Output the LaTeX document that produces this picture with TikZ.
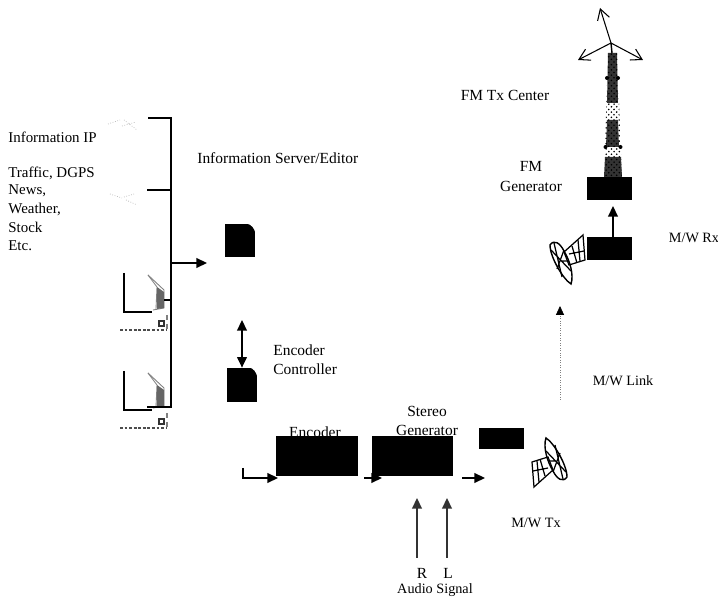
\documentclass[tikz,border=0pt]{standalone}
\usepackage{fontspec}
\setmainfont{Liberation Serif}
\usetikzlibrary{arrows.meta,patterns}

\tikzset{
    lbl/.style={font=\fontsize{8.8}{10}\selectfont, inner sep=0pt, align=center},
    lblleft/.style={lbl, anchor=west, align=left},
    srclbl/.style={lblleft, font=\fontsize{8.5}{10}\selectfont},
    mwlbl/.style={lbl, font=\fontsize{8.1}{10}\selectfont},
    blackbox/.style={fill=black, draw=none, inner sep=0pt},
    arr/.style={-{Triangle[length=6pt,width=5.5pt]}, line width=0.9pt},
    busline/.style={line width=1.1pt},
    mwdish/.pic={
        % reflector and horn
        \draw[line width=0.8pt, fill=white] (-16,-12) .. controls (-12,-18) and (-6,-14) .. (-2,-6) .. controls (4,4) and (8,18) .. (5,27) .. controls (-3,22) and (-16,0) .. cycle;
        \draw[line width=0.7pt] (-12,-14) -- (-4,20) (-15,-7) -- (5,14) (-9,12) -- (-2,-7) (-4,4) -- (3,4);
        \draw[line width=0.7pt] (-2,-5) -- (17,-22) -- (19,3) -- (3,8) -- cycle;
        \draw[line width=0.7pt] (6,-11) -- (11,6) (3,-3) -- (18,-6) (12,-17) -- (14,4);
    },
    monitor/.pic={
        \draw[line width=0.8pt] (-33,-40) -- (-33,-1) -- (-5,-1);
        \draw[gray, line width=0.5pt] (-9,-38) -- (7,-23) -- (7,-5) -- (-4,-3);
        \draw[gray, line width=0.5pt] (-9,-38) -- (0,-26) -- (-1,-4);
        \fill[black!60] (0,-26) -- (7,-21) -- (7,-5) -- (0,-4) -- cycle;
        \draw[gray, densely dashed, line width=0.6pt] (10,2) -- (10,17);
        \draw[black!70, densely dotted, line width=1.6pt] (-37,17) -- (10,17);
        \draw[black!80, line width=0.7pt] (2,8) rectangle (7,13);
    }
}

\begin{document}
\begin{tikzpicture}[x=0.02cm, y=-0.02cm]
    % Fix the picture size
    \useasboundingbox (0,0) rectangle (718,597);

    % Information sources on the left
    \node[srclbl] (infoip) at (8,137) {Information IP};
    \node[srclbl] (traffic) at (8,173) {Traffic, DGPS};
    \node[srclbl] (news) at (8,191) {News,};
    \node[srclbl] (weather) at (8,209) {Weather,};
    \node[srclbl] (stock) at (8,227) {Stock};
    \node[srclbl] (etc) at (8,246) {Etc.};
    \draw[gray!60, densely dotted] (108,124) -- (120,120) (122,126) -- (136,122) (124,120) -- (137,130);
    \draw[gray!60, densely dotted] (110,194) -- (122,198) (124,197) -- (134,194) (126,200) -- (137,205);

    % Monitors
    \pic at (157,313) {monitor};
    \pic at (157,411) {monitor};

    % Bus
    \coordinate (bustop) at (148,118);
    \coordinate (buscorner) at (171,118);
    \coordinate (busbottom) at (171,407);
    \coordinate (busend) at (147,407);
    \draw[busline] (bustop) -- (buscorner) -- (busbottom) -- (busend);
    \coordinate (stuba) at (147,190);
    \coordinate (stubb) at (171,190);
    \draw[busline] (stuba) -- (stubb);
    \coordinate (stubc) at (164,300);
    \coordinate (stubd) at (171,300);
    \draw[busline] (stubc) -- (stubd);

    % Server and controller
    \node[lblleft] (serverlbl) at (197,158) {Information Server/Editor};
    \node[blackbox, minimum width=0.6cm, minimum height=0.66cm] (server) at (240,240.5) {};
    \fill[white] (255.5,223.5) -- (247,223.5) .. controls (252,225) and (254,228) .. (255.5,233) -- cycle;
    \node[blackbox, minimum width=0.6cm, minimum height=0.68cm] (controller) at (242,385) {};
    \fill[white] (257.5,367.5) -- (250,367.5) .. controls (254,369) and (256,372) .. (257.5,377) -- cycle;
    \node[lblleft] (controllerlbl) at (273,359.5) {Encoder\\[1pt]Controller};
    \coordinate (busout) at (171,263);
    \coordinate (serverin) at (207,263);
    \draw[arr] (busout) -- (serverin);
    \coordinate (dbltop) at (242,320);
    \draw[arr, {Triangle[length=6pt,width=5.5pt]}-{Triangle[length=6pt,width=5.5pt]}] (dbltop) -- (controller.north);

    % Encoder chain
    \node[lbl] (encoderlbl) at (315,432) {Encoder};
    \node[lbl] (stereolbl) at (427,421) {Stereo\\[1pt]Generator};
    \node[blackbox, minimum width=1.64cm, minimum height=0.8cm] (encoder) at (317,456) {};
    \node[blackbox, minimum width=1.62cm, minimum height=0.8cm] (stereo) at (412.5,456) {};
    \node[blackbox, minimum width=0.9cm, minimum height=0.42cm] (txbox) at (501.5,438.5) {};
    \coordinate (ina) at (243,468);
    \coordinate (inb) at (243,478);
    \coordinate (inc) at (278,478);
    \draw[arr] (ina) -- (inb) -- (inc);
    \coordinate (midl) at (364,478);
    \coordinate (midr) at (382,478);
    \draw[arr] (midl) -- (midr);
    \coordinate (outl) at (462,478);
    \coordinate (outr) at (485,478);
    \draw[arr] (outl) -- (outr);

    % Audio inputs
    \node[lbl] (rlbl) at (422,573) {R};
    \node[lbl] (llbl) at (448,573) {L};
    \node[mwlbl] (audiolbl) at (435,590) {Audio Signal};
    \coordinate (rbot) at (417,558);
    \coordinate (rtop) at (417,498);
    \coordinate (lbot) at (447,558);
    \coordinate (ltop) at (447,498);
    \draw[arr, black!80] (rbot) -- (rtop);
    \draw[arr, black!80] (lbot) -- (ltop);

    % Microwave link
    \pic[rotate=180] at (551,465) {mwdish};
    \node[mwlbl] (txlbl) at (536,523) {M/W Tx};
    \pic at (566,257) {mwdish};
    \coordinate (linkbot) at (560,400);
    \coordinate (linktop) at (560,306);
    \draw[densely dotted, gray, -{Triangle[length=5pt,width=4.5pt,black]}] (linkbot) -- (linktop);
    \node[mwlbl] (linklbl) at (623,381) {M/W Link};

    % FM transmitter
    \node[blackbox, minimum width=0.9cm, minimum height=0.46cm] (rxbox) at (609.5,248.5) {};
    \node[blackbox, minimum width=0.9cm, minimum height=0.46cm] (fmbox) at (609.5,188.5) {};
    \node[mwlbl] (rxlbl) at (694,238) {M/W Rx};
    \node[lbl] (fmlbl) at (531,176.5) {FM\\[1pt]Generator};
    \node[lbl] (centerlbl) at (505,95) {FM Tx Center};
    \coordinate (rxtop) at (613,237);
    \coordinate (fmbot) at (613,206);
    \draw[arr] (rxtop) -- (fmbot);

    % Tower
    \fill[pattern=crosshatch dots, pattern color=black] (608,53) -- (617,53) -- (622,177) -- (604,177) -- cycle;
    \fill[black, opacity=0.8] (608,53) -- (617,53) -- (618,103) -- (607,103) -- cycle;
    \fill[black, opacity=0.8] (607,120) -- (618,120) -- (619,147) -- (606,147) -- cycle;
    \fill[black, opacity=0.8] (605,157) -- (621,157) -- (622,177) -- (604,177) -- cycle;
    \fill (607,78) circle (2);
    \fill (618,78) circle (2);
    \fill (605.5,147) circle (2);
    \fill (620.5,147) circle (2);
    \coordinate (mast) at (611,43);
    \coordinate (anta) at (600,8);
    \coordinate (antb) at (578,60);
    \coordinate (antc) at (643,60);
    \draw[-{Straight Barb[length=6pt,width=7pt]}, line width=0.6pt] (mast) -- (anta);
    \draw[-{Straight Barb[length=6pt,width=7pt]}, line width=0.6pt] (mast) -- (antb);
    \draw[-{Straight Barb[length=6pt,width=7pt]}, line width=0.6pt] (mast) -- (antc);
    \draw[line width=0.8pt] (mast) -- (612,53);
\end{tikzpicture}
\end{document}
